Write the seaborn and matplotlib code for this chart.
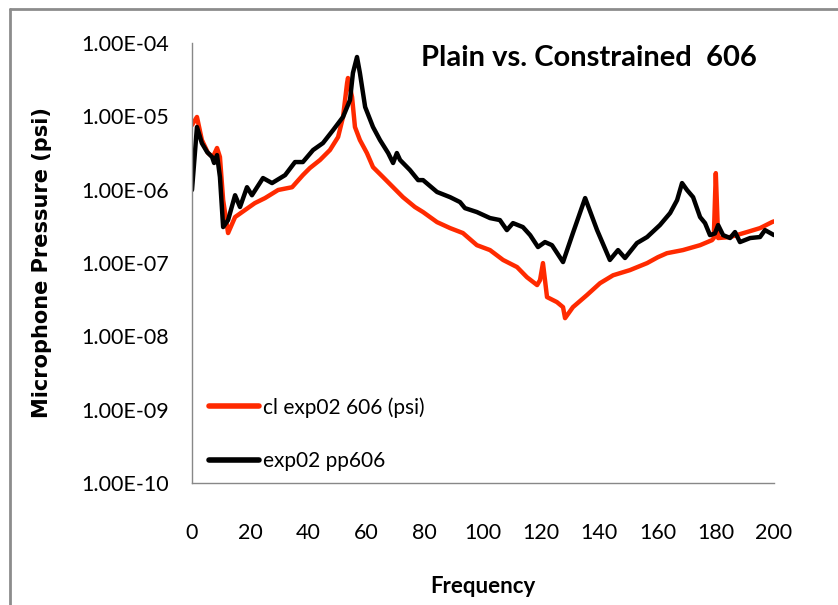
import numpy as np
import pandas as pd
import matplotlib
matplotlib.use("Agg")
import matplotlib.pyplot as plt
from matplotlib.lines import Line2D
import seaborn as sns

# ---- data ----
freq_pp = [0, 1.7, 3.4, 5.2, 6.9, 7.6, 8.6, 9.6, 10.7, 12.4, 14.8, 16.5, 18.9, 20.6,
           24.4, 27.5, 32.0, 35.4, 38.1, 41.6, 45.0, 48.5, 51.9, 54.3, 55.3, 56.7,
           57.7, 59.5, 62.2, 64.6, 67.4, 69.1, 70.4, 71.5, 74.9, 77.7, 79.4, 84.2,
           88.7, 92.1, 93.8, 97.9, 102.4, 105.8, 108.2, 110.3, 113.7, 116.2, 118.9,
           121.3, 123.7, 127.5, 130.9, 135.1, 139.2, 143.6, 146.4, 148.8, 152.9,
           156.4, 160.8, 164.3, 166.7, 168.4, 170.1, 172.2, 174.6, 176.3, 178.0,
           179.7, 180.8, 182.5, 184.9, 186.6, 188.3, 191.8, 195.2, 196.9, 200.0]
pres_pp = [9.9e-7, 7.15e-6, 4.3e-6, 3.26e-6, 2.79e-6, 2.31e-6, 2.96e-6, 1.49e-6,
           3.09e-7, 3.85e-7, 8.4e-7, 5.8e-7, 1.08e-6, 8.4e-7, 1.44e-6, 1.23e-6,
           1.58e-6, 2.38e-6, 2.38e-6, 3.47e-6, 4.32e-6, 6.5e-6, 9.8e-6, 1.67e-5,
           3.9e-5, 6.44e-5, 3.9e-5, 1.34e-5, 7.15e-6, 4.75e-6, 3.16e-6, 2.31e-6,
           3.16e-6, 2.54e-6, 1.85e-6, 1.35e-6, 1.35e-6, 9.3e-7, 7.9e-7, 6.77e-7,
           5.6e-7, 4.95e-7, 4.1e-7, 3.85e-7, 2.81e-7, 3.5e-7, 3.09e-7, 2.40e-7,
           1.65e-7, 1.93e-7, 1.75e-7, 1.03e-7, 2.56e-7, 7.68e-7, 2.81e-7, 1.10e-7,
           1.50e-7, 1.17e-7, 1.87e-7, 2.26e-7, 3.29e-7, 4.8e-7, 7.2e-7, 1.23e-6,
           9.9e-7, 7.9e-7, 4.23e-7, 3.5e-7, 2.40e-7, 2.53e-7, 3.29e-7, 2.40e-7,
           2.19e-7, 2.64e-7, 1.93e-7, 2.19e-7, 2.26e-7, 2.81e-7, 2.40e-7]

freq_cl = [0, 1.7, 3.4, 5.5, 7.2, 8.6, 9.6, 10.7, 12.4, 14.8, 18.2, 21.6, 25.1,
           29.6, 34.4, 38.1, 40.5, 44.0, 47.4, 50.2, 51.9, 53.3, 53.6, 55.0, 56.0,
           57.7, 60.1, 62.2, 65.6, 69.1, 72.5, 76.6, 79.4, 84.2, 88.7, 93.1, 97.9,
           102.4, 106.9, 111.7, 115.1, 118.6, 119.6, 120.6, 122.0, 125.4, 127.5,
           128.2, 130.9, 135.7, 140.2, 144.7, 150.5, 156.4, 160.1, 163.2, 168.7,
           174.6, 178.7, 179.3, 180.0, 180.8, 184.9, 190.7, 195.2, 199.3, 200.0]
pres_cl = [7.6e-6, 9.8e-6, 4.75e-6, 3.16e-6, 2.79e-6, 3.7e-6, 2.79e-6, 7.2e-7,
           2.56e-7, 4.23e-7, 5.27e-7, 6.56e-7, 7.68e-7, 9.9e-7, 1.08e-6, 1.58e-6,
           1.97e-6, 2.54e-6, 3.47e-6, 5.22e-6, 9.8e-6, 2.85e-5, 3.33e-5, 1.83e-5,
           7.15e-6, 4.75e-6, 3.16e-6, 2.03e-6, 1.49e-6, 1.08e-6, 7.9e-7, 5.8e-7,
           4.95e-7, 3.61e-7, 2.99e-7, 2.56e-7, 1.75e-7, 1.50e-7, 1.10e-7, 8.8e-8,
           6.4e-8, 5.0e-8, 5.85e-8, 9.97e-8, 3.43e-8, 2.93e-8, 2.5e-8, 1.77e-8,
           2.5e-8, 3.65e-8, 5.3e-8, 6.8e-8, 8.0e-8, 9.97e-8, 1.20e-7, 1.36e-7,
           1.50e-7, 1.75e-7, 2.05e-7, 2.19e-7, 1.68e-6, 2.19e-7, 2.26e-7, 2.64e-7,
           2.99e-7, 3.61e-7, 3.7e-7]

series_names = ["cl exp02 606 (psi)", "exp02 pp606"]
x_ticks = [0, 20, 40, 60, 80, 100, 120, 140, 160, 180, 200]
y_ticks = [1e-10, 1e-9, 1e-8, 1e-7, 1e-6, 1e-5, 1e-4]
y_tick_labels = ["1.00E-10", "1.00E-09", "1.00E-08", "1.00E-07", "1.00E-06",
                 "1.00E-05", "1.00E-04"]

df = pd.concat([
    pd.DataFrame({"Frequency": freq_cl, "Pressure": pres_cl, "Series": series_names[0]}),
    pd.DataFrame({"Frequency": freq_pp, "Pressure": pres_pp, "Series": series_names[1]}),
], ignore_index=True)

sns.set_style("white")
plt.rcParams["font.family"] = ["Lato", "DejaVu Sans"]
plt.rcParams["text.color"] = "#000000"
plt.rcParams["axes.labelcolor"] = "#000000"

fig = plt.figure(figsize=(8.38, 6.05), dpi=100)
ax = fig.add_axes([192 / 838, 1 - 483 / 605, (774 - 192) / 838, (483 - 43) / 605])

palette = {series_names[0]: "#FF2A00", series_names[1]: "#000000"}
sns.lineplot(data=df, x="Frequency", y="Pressure", hue="Series", palette=palette,
             linewidth=3.2, sort=False, estimator=None, ax=ax, legend=True)

ax.set_yscale("log")
ax.set_xlim(0, 200)
ax.set_ylim(1e-10, 1e-4)
ax.set_xticks(x_ticks)
ax.set_xticklabels([str(t) for t in x_ticks])
ax.set_yticks(y_ticks)
ax.set_yticklabels(y_tick_labels)
ax.minorticks_off()
ax.tick_params(axis="both", which="major", direction="out", length=5.5, width=1,
               color="#888888", labelsize=15.5, labelcolor="#000000")
ax.tick_params(axis="x", pad=23)
ax.tick_params(axis="y", pad=11)

for s in ["top", "right"]:
    ax.spines[s].set_visible(False)
for s in ["left", "bottom"]:
    ax.spines[s].set_color("#888888")
    ax.spines[s].set_linewidth(1)

ax.set_xlabel("Frequency", fontsize=16, fontweight="bold", labelpad=24)
ax.set_ylabel("Microphone Pressure (psi)", fontsize=15, fontweight="bold",
              family=["DejaVu Sans"], labelpad=21)

ax.text(0.97, 0.995, "Plain vs. Constrained  606", transform=ax.transAxes,
        ha="right", va="top", fontsize=21, fontweight="bold")

leg = ax.legend(loc="lower left", bbox_to_anchor=(0.005, -0.006), frameon=False,
                fontsize=15, handlelength=2.4, handletextpad=0.15, labelspacing=1.6,
                borderaxespad=0.3)
for h in leg.get_lines():
    h.set_linewidth(4)

# outer chart-area border (grey, left and top visible)
fig.add_artist(Line2D([10 / 838, 10 / 838], [0, 1 - 9 / 605], color="#8c8c8c",
                      linewidth=2, transform=fig.transFigure))
fig.add_artist(Line2D([10 / 838, 1], [1 - 9 / 605, 1 - 9 / 605], color="#8c8c8c",
                      linewidth=2, transform=fig.transFigure))

fig.savefig("out.png", dpi=100)
